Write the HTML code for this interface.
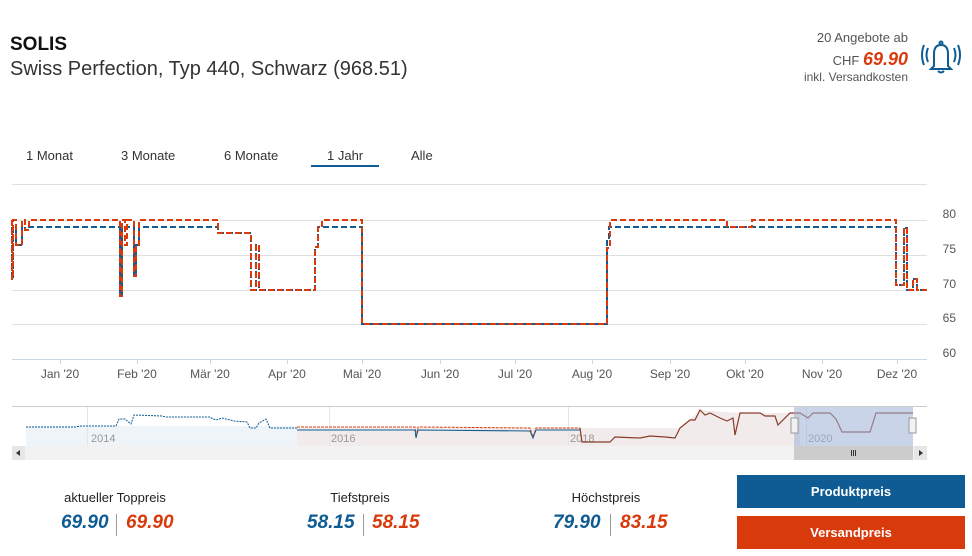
<!DOCTYPE html>
<html><head><meta charset="utf-8"><style>
body{margin:0;width:972px;height:556px;background:#fff;font-family:"Liberation Sans",sans-serif;position:relative;overflow:hidden;color:#222}
.a{position:absolute;white-space:nowrap}
</style></head><body>
<div class="a" style="left:10px;top:34px;font-size:19px;font-weight:bold;color:#111">SOLIS</div>
<div class="a" style="left:10px;top:58px;font-size:20px;color:#333">Swiss Perfection, Typ 440, Schwarz (968.51)</div>
<div class="a" style="left:760px;top:30px;width:148px;text-align:right;font-size:13px;color:#555">20 Angebote ab</div>
<div class="a" style="left:760px;top:49px;width:148px;text-align:right;font-size:13px;color:#555">CHF <span style="font-size:18px;font-weight:bold;font-style:italic;color:#d93a0b">69.90</span></div>
<div class="a" style="left:760px;top:70px;width:148px;text-align:right;font-size:12px;color:#555">inkl. Versandkosten</div>
<svg class="a" style="left:920px;top:38px" width="42" height="38" viewBox="0 0 42 38">
<g fill="none" stroke="#0e5c93" stroke-width="2">
<path d="M14 28 L14 16 Q14 7 21 7 Q28 7 28 16 L28 28 L31 31 L11 31 Z"/><circle cx="21" cy="5" r="1.5"/><path d="M18 33 Q21 36 24 33"/>
<path d="M8 10 Q5 17 8 24"/><path d="M4 7 Q0 17 4 27"/><path d="M34 10 Q37 17 34 24"/><path d="M38 7 Q42 17 38 27"/></g></svg>
<div class="a" style="left:26px;top:148px;font-size:13px;color:#333">1 Monat</div>
<div class="a" style="left:121px;top:148px;font-size:13px;color:#333">3 Monate</div>
<div class="a" style="left:224px;top:148px;font-size:13px;color:#333">6 Monate</div>
<div class="a" style="left:327px;top:148px;font-size:13px;color:#333">1 Jahr</div>
<div class="a" style="left:411px;top:148px;font-size:13px;color:#333">Alle</div>
<div class="a" style="left:311px;top:165px;width:68px;height:2px;background:#0e5c93"></div>
<svg class="a" style="left:0;top:0" width="972" height="470">
<g stroke="#e0e0e0" stroke-width="1">
<line x1="12" y1="184.5" x2="927" y2="184.5"/><line x1="12" y1="220.5" x2="927" y2="220.5"/><line x1="12" y1="255.5" x2="927" y2="255.5"/><line x1="12" y1="290.5" x2="927" y2="290.5"/><line x1="12" y1="324.5" x2="927" y2="324.5"/></g>
<line x1="12" y1="359.5" x2="927" y2="359.5" stroke="#ccd6eb"/>
<g stroke="#ccd6eb">
<line x1="60.5" y1="359" x2="60.5" y2="364"/><line x1="137.5" y1="359" x2="137.5" y2="364"/><line x1="210.5" y1="359" x2="210.5" y2="364"/><line x1="287.5" y1="359" x2="287.5" y2="364"/><line x1="362.5" y1="359" x2="362.5" y2="364"/><line x1="440.5" y1="359" x2="440.5" y2="364"/><line x1="515.5" y1="359" x2="515.5" y2="364"/><line x1="592.5" y1="359" x2="592.5" y2="364"/><line x1="670.5" y1="359" x2="670.5" y2="364"/><line x1="745.5" y1="359" x2="745.5" y2="364"/><line x1="822.5" y1="359" x2="822.5" y2="364"/><line x1="897.5" y1="359" x2="897.5" y2="364"/></g>
<g font-size="12" fill="#555" text-anchor="middle">
<text x="60" y="378">Jan '20</text><text x="137" y="378">Feb '20</text><text x="210" y="378">Mär '20</text><text x="287" y="378">Apr '20</text><text x="362" y="378">Mai '20</text><text x="440" y="378">Jun '20</text><text x="515" y="378">Jul '20</text><text x="592" y="378">Aug '20</text><text x="670" y="378">Sep '20</text><text x="745" y="378">Okt '20</text><text x="822" y="378">Nov '20</text><text x="897" y="378">Dez '20</text></g>
<g font-size="12" fill="#555" text-anchor="end">
<text x="956" y="218">80</text><text x="956" y="253">75</text><text x="956" y="288">70</text><text x="956" y="322">65</text><text x="956" y="357">60</text></g>
<path fill="none" stroke="#0e5c93" stroke-width="2" stroke-dasharray="6,3" d="M12,227 L12,279 L13,279 L13,227 L16,227 L16,245 L22,245 L22,227 L25,227 L25,230 L29,230 L29,227 L120,227 L120,296 L122,296 L122,227 L125,227 L125,245 L127,245 L127,227 L134,227 L134,276 L136,276 L136,245 L139,245 L139,227 L218,227 L218,233 L251,233 L251,290 L256,290 L256,245 L259,245 L259,290 L315,290 L315,247 L318,247 L318,227 L362,227 L362,324 L607,324 L607,240 L609,240 L609,227 L896,227 L896,285 L904,285 L904,228 L907,228 L907,290 L913,290 L913,279 L917,279 L917,290 L927,290"/>
<path fill="none" stroke="#d93a0b" stroke-width="2" stroke-dasharray="6,3" d="M12,220 L12,279 L13,279 L13,220 L16,220 L16,245 L22,245 L22,220 L25,220 L25,230 L29,230 L29,220 L120,220 L120,296 L122,296 L122,220 L125,220 L125,245 L127,245 L127,220 L134,220 L134,276 L136,276 L136,245 L139,245 L139,220 L218,220 L218,233 L251,233 L251,290 L256,290 L256,245 L259,245 L259,290 L315,290 L315,247 L318,247 L318,227 L322,227 L322,220 L362,220 L362,324 L607,324 L607,248 L610,248 L610,220 L727,220 L727,227 L752,227 L752,220 L896,220 L896,285 L904,285 L904,228 L907,228 L907,290 L913,290 L913,279 L917,279 L917,290 L927,290"/>
<!-- navigator -->
<rect x="12" y="407" width="915" height="39" fill="#fff"/>
<rect x="26" y="426" width="271" height="20" fill="#eef4f8"/>
<rect x="297" y="428" width="503" height="18" fill="#f1eceb"/>
<rect x="580" y="405" width="220" height="41" fill="#f1eceb" opacity="0"/>
<path d="M580,442 L610,442 L680,428 L700,410 L740,413 L800,413 L800,446 L580,446Z" fill="#f1eceb"/>
<line x1="12" y1="406.5" x2="927" y2="406.5" stroke="#ccc"/>
<g stroke="#e6e6e6"><line x1="87.5" y1="407" x2="87.5" y2="446"/><line x1="329.5" y1="407" x2="329.5" y2="446"/><line x1="568.5" y1="407" x2="568.5" y2="446"/><line x1="806.5" y1="407" x2="806.5" y2="446"/></g>
<g font-size="11" fill="#999"><text x="91" y="442">2014</text><text x="331" y="442">2016</text><text x="570" y="442">2018</text><text x="808" y="442">2020</text></g>
<polyline fill="none" stroke="#0e5c93" stroke-width="1" stroke-dasharray="2,1" points="26,427 75,427 81,426 116,426 119,419 125,419 131,424 134,415 162,416 166,417 209,417 216,420 222,418 234,421 247,422 250,428 256,428 259,423 266,419 270,428 297,428"/>
<polyline fill="none" stroke="#d93a0b" stroke-width="1" stroke-dasharray="3,1" points="297,427 415,427 416,437 418,427 530,428 533,437 536,428 560,428 580,428"/>
<polyline fill="none" stroke="#0e5c93" stroke-width="1" points="297,430 415,430 416,438 418,430 530,431 533,438 536,430 580,430"/>
<polyline fill="none" stroke="#8a3b2b" stroke-width="1.2" points="580,428 582,442 610,442 615,437 640,438 650,436 665,437 675,438 680,428 690,420 695,420 700,410 705,415 710,413 720,418 727,421 733,418 735,435 740,413 760,413 765,416 775,416 778,425 790,413 800,413 808,418 813,413 830,413 836,419 842,432 870,432 876,413 913,413"/>
<rect x="794" y="407" width="119" height="39" fill="#9fb0d6" opacity="0.55"/>
<rect x="791" y="418" width="7" height="15" fill="#f2f2f2" stroke="#999"/><rect x="909" y="418" width="7" height="15" fill="#f2f2f2" stroke="#999"/>
<rect x="12" y="446" width="915" height="14" fill="#f2f2f2"/>
<rect x="794" y="446" width="119" height="14" fill="#ccc"/>
<rect x="12" y="446" width="13" height="14" fill="#e6e6e6"/><rect x="914" y="446" width="13" height="14" fill="#e6e6e6"/>
<path d="M20,450 L16,453 L20,456Z" fill="#333"/><path d="M919,450 L923,453 L919,456Z" fill="#333"/>
<g stroke="#333"><line x1="851.5" y1="450" x2="851.5" y2="456"/><line x1="853.5" y1="450" x2="853.5" y2="456"/><line x1="855.5" y1="450" x2="855.5" y2="456"/></g>
</svg>
<div class="a" style="left:40px;top:490px;width:150px;text-align:center;font-size:13px;color:#222">aktueller Toppreis</div>
<div class="a" style="left:285px;top:490px;width:150px;text-align:center;font-size:13px;color:#222">Tiefstpreis</div>
<div class="a" style="left:531px;top:490px;width:150px;text-align:center;font-size:13px;color:#222">Höchstpreis</div>
<div class="a" style="left:0;top:512px;font-size:19px;font-weight:bold;font-style:italic">
<span class="a" style="left:61px;color:#0e5c93">69.90</span><span class="a" style="left:116px;top:2px;width:1px;height:22px;background:#999"></span><span class="a" style="left:126px;color:#d93a0b">69.90</span>
<span class="a" style="left:307px;color:#0e5c93">58.15</span><span class="a" style="left:363px;top:2px;width:1px;height:22px;background:#999"></span><span class="a" style="left:372px;color:#d93a0b">58.15</span>
<span class="a" style="left:553px;color:#0e5c93">79.90</span><span class="a" style="left:610px;top:2px;width:1px;height:22px;background:#999"></span><span class="a" style="left:620px;color:#d93a0b">83.15</span>
</div>
<div class="a" style="left:737px;top:475px;width:228px;height:33px;background:#0e5c93;color:#fff;font-size:13px;font-weight:bold;text-align:center;line-height:33px">Produktpreis</div>
<div class="a" style="left:737px;top:516px;width:228px;height:33px;background:#d93a0b;color:#fff;font-size:13px;font-weight:bold;text-align:center;line-height:33px">Versandpreis</div>
</body></html>
